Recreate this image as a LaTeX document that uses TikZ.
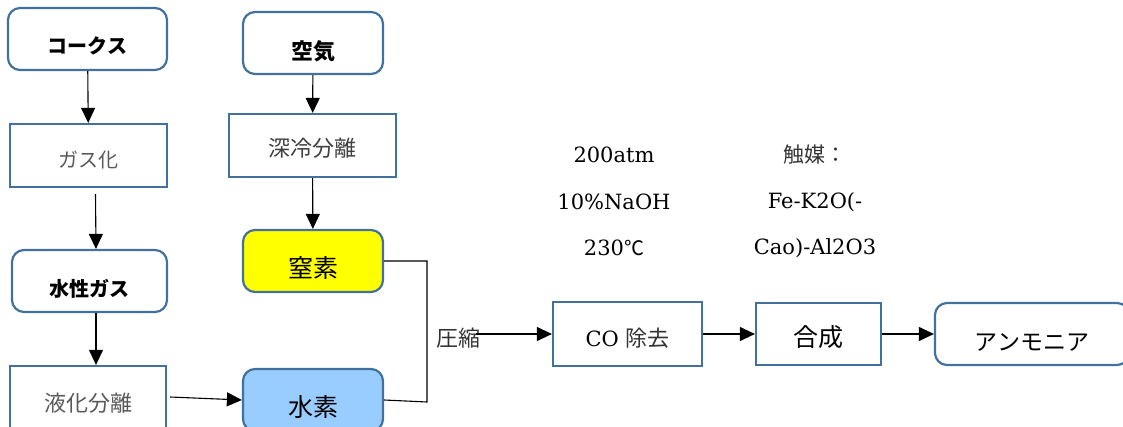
\documentclass[tikz,border=0pt]{standalone}
\usepackage{fontspec}
\usepackage{tikz}
\usetikzlibrary{arrows.meta,positioning,calc}
\newfontfamily\jp{Noto Sans CJK JP}
\newfontfamily\lat{DejaVu Serif}
\definecolor{bline}{HTML}{41719C}
\definecolor{nyel}{HTML}{FFFF00}
\definecolor{hblue}{HTML}{99CCFF}
\definecolor{tgray}{HTML}{595959}
\newcommand{\fsz}[1]{\fontsize{#1}{#1}\selectfont}

\begin{document}
\begin{tikzpicture}[x=1pt,y=-1pt,
      every node/.style={align=center,inner sep=0pt},
      box/.style={draw=bline,line width=2.2pt,fill=white},
      rbox/.style={box,rounded corners=12pt},
      low/.style={text height=#1,text depth=0pt},
      jt/.style={font=\jp\fsz{22},text=tgray},
      jb/.style={font=\jp\bfseries\fsz{20}},
      jm/.style={font=\jp\fsz{25}},
      note/.style={font=\lat\fsz{21}},
      arr/.style={-{Triangle[length=15pt,width=14pt]},line width=1.1pt}
    ]
      \useasboundingbox (0,0) rectangle (1123,427);
      % left column
      \node[rbox,jb,low=30pt,minimum width=159pt,minimum height=62pt] (coke) at (87.5,39) {コークス};
      \node[box,jt,font=\jp\fsz{20},low=24pt,minimum width=157pt,minimum height=63pt] (gasu) at (88.5,155.5) {ガス化};
      \node[rbox,jb,low=31pt,minimum width=155pt,minimum height=62pt] (suisei) at (89.5,281) {水性ガス};
      \node[box,jt,low=22pt,minimum width=156pt,minimum height=68pt] (ekika) at (88,400) {液化分離};
      % middle column
      \node[rbox,jb,font=\jp\bfseries\fsz{22},low=34pt,minimum width=140pt,minimum height=62pt] (kuuki) at (313,43) {空気};
      \node[box,jt,text=black!75,low=22pt,minimum width=167pt,minimum height=63pt] (shinrei) at (312.5,145.5) {深冷分離};
      \node[rbox,jm,fill=nyel,low=33pt,minimum width=140pt,minimum height=62pt] (chisso) at (313,261) {窒素};
      \node[rbox,jm,fill=hblue,low=33pt,minimum width=140pt,minimum height=62pt] (suiso) at (313,400) {水素};
      \coordinate (jn) at (427,261);
      \coordinate (js) at (427,402);
      \node[jt,text=black!80] (assh) at (458,338) {圧縮};
      % right row
      \node[box,low=24pt,minimum width=149pt,minimum height=64pt] (co) at (627.5,334)
        {\lat\fsz{21}CO {\jp\fsz{22}\color{black!80}除去}};
      \node[box,jm,low=24pt,minimum width=125pt,minimum height=62pt] (gosei) at (818.5,334) {合成};
      \node[rbox,jm,font=\jp\fsz{23},low=32pt,minimum width=194pt,minimum height=62pt] (nh3) at (1032,334) {アンモニア};
      % conditions
      \node[note] (p1) at (614,155) {200atm};
      \node[note] (p2) at (614,202) {10\%NaOH};
      \node[note] (p3) at (614,248) {230{\jp\fsz{20}℃}};
      \node[note] (k1) at (815,155) {{\jp\fsz{21}\color{black!80}触媒：}};
      \node[note] (k2) at (815,202) {Fe-K2O(-};
      \node[note] (k3) at (815,248) {Cao)-Al2O3};
      % connectors
      \foreach \a/\b in {coke/gasu,kuuki/shinrei,shinrei/chisso,co/gosei,gosei/nh3}
        \draw[arr] (\a) -- (\b);
      \draw[arr] ([xshift=7pt,yshift=-6pt]gasu.south) -- ([xshift=6.5pt]suisei.north);
      \draw[arr] ([xshift=6.5pt]suisei.south) -- ([xshift=8pt]ekika.north);
      \draw[arr] ([xshift=3pt,yshift=3pt]ekika.east) -- (suiso.west);
      \draw[line width=1.1pt] (chisso.east) -- (jn) -- (js) -- (suiso.east);
      \coordinate (ain) at ([xshift=-4pt]assh.east |- co.west);
      \draw[arr] (ain) -- (co.west);
    \end{tikzpicture}
\end{document}
